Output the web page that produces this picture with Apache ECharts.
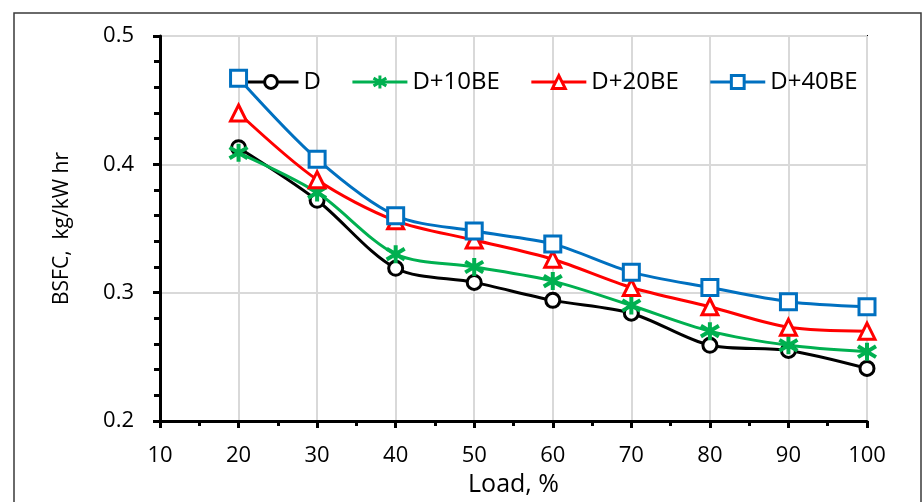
<!DOCTYPE html>
<html>
<head>
<meta charset="utf-8">
<script src="https://cdn.jsdelivr.net/npm/echarts@6/dist/echarts.min.js"></script>
<style>html,body{margin:0;padding:0;background:#fff;}#c{width:922px;height:502px;}</style>
</head>
<body>
<div id="c"></div>
<script>
const loads = [20, 30, 40, 50, 60, 70, 80, 90, 100];
const seriesNames = ['D', 'D+10BE', 'D+20BE', 'D+40BE'];
const dValues = [0.413, 0.372, 0.319, 0.308, 0.294, 0.284, 0.259, 0.255, 0.241];
const d10Values = [0.409, 0.378, 0.330, 0.320, 0.309, 0.290, 0.270, 0.259, 0.254];
const d20Values = [0.440, 0.388, 0.356, 0.341, 0.326, 0.304, 0.289, 0.273, 0.270];
const d40Values = [0.467, 0.404, 0.360, 0.348, 0.338, 0.316, 0.304, 0.293, 0.289];
const xTicks = [10, 20, 30, 40, 50, 60, 70, 80, 90, 100];
const yTicks = [0.2, 0.3, 0.4, 0.5];

const colors = ['#000000', '#00B050', '#FF0000', '#0070C0'];
const symbols = ['circle', 'path://M0,-10L0,10M-9,-6L9,6M-9,6L9,-6', 'triangle', 'rect'];
const symbolSizes = [14, 18, 16, 16];
const allValues = [dValues, d10Values, d20Values, d40Values];

const chart = echarts.init(document.getElementById('c'), null, {renderer: 'canvas'});
const font = '"Open Sans", "DejaVu Sans", sans-serif';

const series = allValues.map((vals, i) => ({
  name: seriesNames[i],
  type: 'line',
  data: loads.map((x, j) => [x, vals[j]]),
  smooth: 0.3,
  symbol: symbols[i],
  symbolSize: symbolSizes[i],
  lineStyle: {color: colors[i], width: 3},
  itemStyle: {color: i === 1 ? colors[i] : '#ffffff', borderColor: colors[i], borderWidth: i === 1 ? 4 : 3},
  z: 2 + i
}));

chart.setOption({
  animation: false,
  backgroundColor: '#ffffff',
  textStyle: {fontFamily: font},
  graphic: [{
    type: 'rect',
    shape: {x: 14, y: 13, width: 907, height: 510},
    style: {fill: 'none', stroke: '#3a3a3a', lineWidth: 1.5},
    silent: true, z: -10
  }],
  grid: {left: 160, right: 55, top: 36, bottom: 81, show: true, borderColor: '#000', borderWidth: 2,
    outerBoundsMode: 'none', containLabel: false},
  legend: {
    data: seriesNames,
    left: 242, top: 70, padding: 0,
    itemWidth: 55, itemHeight: 16, itemGap: 30,
    lineStyle: {width: 3},
    itemStyle: {borderWidth: 3},
    textStyle: {fontSize: 24, color: '#000', fontFamily: font}
  },
  xAxis: {
    type: 'value', min: xTicks[0], max: xTicks[xTicks.length - 1], interval: 10,
    name: 'Load, %', nameLocation: 'middle', nameGap: 49,
    nameTextStyle: {fontSize: 25, color: '#000', fontFamily: font},
    axisLine: {show: true, onZero: false, lineStyle: {color: '#000', width: 3}},
    axisTick: {show: true, length: 7, lineStyle: {color: '#000', width: 3}},
    minorTick: {show: true, splitNumber: 2, length: 5, lineStyle: {color: '#000', width: 3}},
    axisLabel: {fontSize: 22, color: '#000', margin: 24, fontFamily: font},
    splitLine: {show: true, lineStyle: {color: '#d9d9d9', width: 2}}
  },
  yAxis: {
    type: 'value', min: yTicks[0], max: yTicks[yTicks.length - 1], interval: 0.1,
    name: 'BSFC,  kg/kW hr', nameLocation: 'middle', nameGap: 87,
    nameTextStyle: {fontSize: 21, color: '#000', fontFamily: font},
    axisLine: {show: true, lineStyle: {color: '#000', width: 3}},
    axisTick: {show: true, length: 7, lineStyle: {color: '#000', width: 3}},
    minorTick: {show: true, splitNumber: 5, length: 6, lineStyle: {color: '#000', width: 3}},
    axisLabel: {fontSize: 22, color: '#000', margin: 26, fontFamily: font,
      formatter: v => String(Math.round(v * 10) / 10)},
    splitLine: {show: true, lineStyle: {color: '#d9d9d9', width: 2}}
  },
  series: series
});
</script>
</body>
</html>
